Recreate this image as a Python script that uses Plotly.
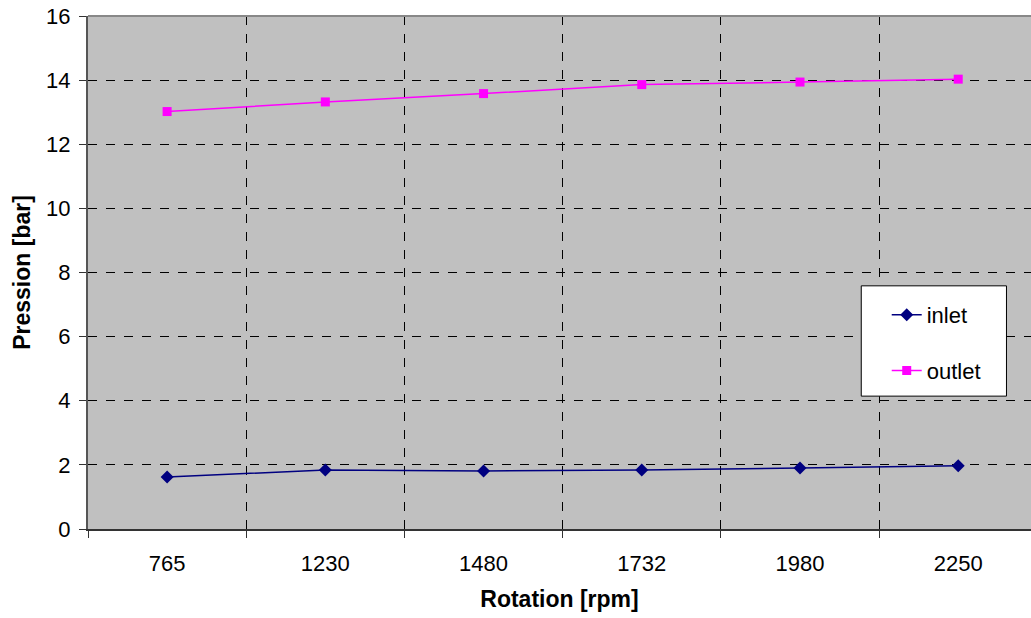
import plotly.graph_objects as go

# Rotation speeds (categories) and measured pressures
rotation_rpm = ["765", "1230", "1480", "1732", "1980", "2250"]
inlet_bar = [1.62, 1.84, 1.81, 1.84, 1.90, 1.97]
outlet_bar = [13.02, 13.32, 13.58, 13.86, 13.94, 14.03]

FONT = "Liberation Sans, Arial, sans-serif"

fig = go.Figure()
fig.add_trace(go.Scatter(
    x=rotation_rpm, y=inlet_bar, name="inlet", mode="lines+markers",
    line=dict(color="#000080", width=1.5),
    marker=dict(symbol="diamond", size=10, color="#000080"),
    legendgroup="a",
))
fig.add_trace(go.Scatter(
    x=rotation_rpm, y=outlet_bar, name="outlet", mode="lines+markers",
    line=dict(color="#FF00FF", width=1.5),
    marker=dict(symbol="square", size=9, color="#FF00FF"),
    legendgroup="b",
))

fig.update_layout(
    width=1031, height=618,
    margin=dict(l=88, r=0, t=16, b=89),
    paper_bgcolor="white",
    plot_bgcolor="#C0C0C0",
    font=dict(family=FONT, size=22, color="black"),
    legend=dict(
        x=0.847, y=0.458, xanchor="left", yanchor="top",
        bgcolor="rgba(0,0,0,0)", borderwidth=0,
        font=dict(size=22), tracegroupgap=24,
    ),
    xaxis=dict(
        type="category", range=[-0.5, 5.46],
        tickson="boundaries", ticks="outside", ticklen=7, tickcolor="#333",
        ticklabelstandoff=14,
        showgrid=True, gridcolor="black", griddash="dash", gridwidth=1,
        showline=True, linecolor="#333", linewidth=2,
        title=dict(text="<b>Rotation [rpm]</b>", standoff=15, font=dict(size=23)),
        zeroline=False,
    ),
    yaxis=dict(
        range=[0, 16], dtick=2, ticks="outside", ticklen=7, tickcolor="#333",
        ticklabelstandoff=4,
        showgrid=True, gridcolor="black", griddash="dash", gridwidth=1,
        showline=True, linecolor="#555", linewidth=2,
        title=dict(text="<b>Pression [bar]</b>", standoff=9, font=dict(size=23)),
        zeroline=False,
    ),
)

# Top border of the plot area
fig.add_shape(type="line", xref="paper", yref="paper", x0=0, x1=1, y0=1, y1=1,
              line=dict(color="#888", width=2))
# Legend frame
fig.add_shape(type="rect", xref="paper", yref="paper",
              x0=0.820, x1=0.974, y0=0.259, y1=0.474,
              fillcolor="white", line=dict(color="black", width=1), layer="above")

fig.write_html("out.html")
